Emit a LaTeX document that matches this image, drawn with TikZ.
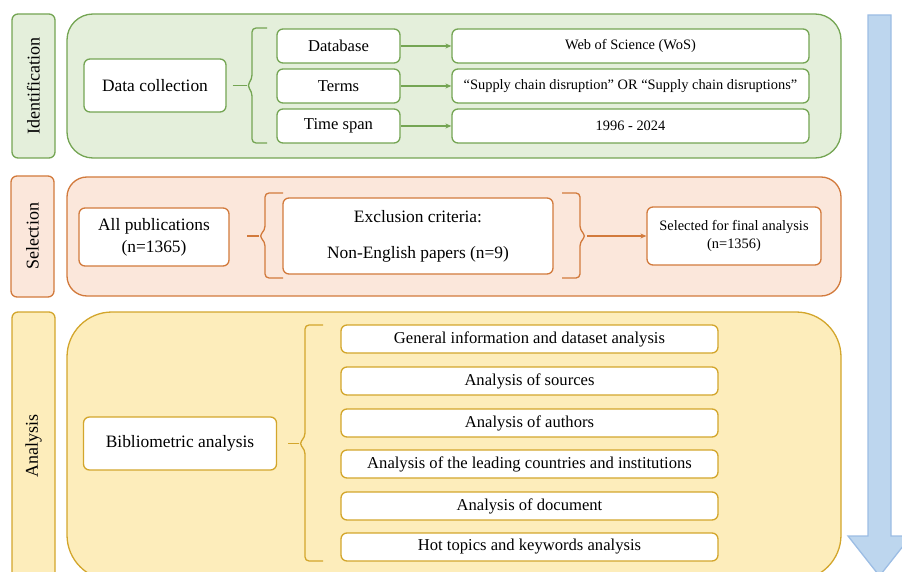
\documentclass[tikz,border=0pt]{standalone}
\usepackage{fontspec}
\setmainfont{Liberation Serif}
\usetikzlibrary{arrows.meta}

\definecolor{grnfill}{HTML}{E4EFDB}
\definecolor{grnline}{HTML}{74A553}
\definecolor{salfill}{HTML}{FBE7DB}
\definecolor{salline}{HTML}{D27A3C}
\definecolor{yelfill}{HTML}{FDEDBB}
\definecolor{yelline}{HTML}{D3A62C}
\definecolor{blufill}{HTML}{BDD6EE}
\definecolor{bluline}{HTML}{9CBDE4}

\begin{document}
\begin{tikzpicture}[x=1pt,y=-1pt,line width=1.3pt,
  box/.style={draw,fill=white,rounded corners=6pt,inner sep=2pt,align=center},
  lab/.style={draw,rounded corners=6pt,rotate=90,minimum height=43pt,
    font=\fontsize{18}{21}\selectfont},
  big/.style={font=\fontsize{17.4}{21}\selectfont},
  mid/.style={font=\fontsize{16.6}{20}\selectfont},
  sml/.style={font=\fontsize{14.4}{18}\selectfont},
  brc/.style={rounded corners=4pt},
  grnarr/.style={draw=grnline,-{Stealth[length=6pt,width=5pt]}}]
\useasboundingbox (0,0) rectangle (902,572);

% flow arrow on the right
\draw[fill=blufill,draw=bluline] (868,15) -- (891,15) -- (891,536) -- (911,536)
  -- (879.5,576) -- (848,536) -- (868,536) -- cycle;

% identification
\node[lab,draw=grnline,fill=grnfill,minimum width=144pt] (idlab) at (33.5,86) {Identification};
\draw[draw=grnline,fill=grnfill,rounded corners=26pt] (67,14) rectangle (841,158);
\node[box,big,draw=grnline,minimum width=142pt,minimum height=53pt] (datacoll) at (155,85.5) {Data collection};
\node[box,mid,draw=grnline,minimum width=123pt,minimum height=34pt] (database) at (338.5,46) {Database};
\node[box,mid,draw=grnline,minimum width=123pt,minimum height=34pt] (terms) at (338.5,86) {Terms};
\node[box,mid,draw=grnline,minimum width=123pt,minimum height=34pt] (timespan) at (338.5,126) {Time span};
\node[box,sml,draw=grnline,minimum width=357pt,minimum height=34pt] (wos) at (630.5,46) {Web of Science (WoS)};
\node[box,sml,draw=grnline,minimum width=357pt,minimum height=34pt] (query) at (630.5,86)
  {“Supply chain disruption” OR “Supply chain disruptions”};
\node[box,sml,draw=grnline,minimum width=357pt,minimum height=34pt] (years) at (630.5,126) {1996 - 2024};
\coordinate (brcA) at (247,85.5);
\draw[grnline,brc] (267,28) -- (252,28) -- (252,79) -- (247,85.5) -- (252,92) -- (252,143) -- (267,143);
\draw[grnline] ([xshift=6pt]datacoll.east) -- (brcA);
\draw[grnarr] (database) -- (wos);
\draw[grnarr] (terms) -- (query);
\draw[grnarr] (timespan) -- (years);

% selection
\node[lab,draw=salline,fill=salfill,minimum width=121pt] (sellab) at (32.5,236.5) {Selection};
\draw[draw=salline,fill=salfill,rounded corners=20pt] (67,177) rectangle (841,296);
\node[box,big,draw=salline,minimum width=150pt,minimum height=58pt] (allpub) at (154,237)
  {All publications\\[1pt](n=1365)};
\node[box,big,draw=salline,minimum width=270pt,minimum height=76pt] (excl) at (418,236)
  {Exclusion criteria:\\[15pt]Non-English papers (n=9)};
\node[box,sml,draw=salline,minimum width=174pt,minimum height=58pt] (final) at (734,236)
  {Selected for final analysis\\(n=1356)};
\coordinate (brcB) at (247,236);
\coordinate (brcC) at (587,236);
\draw[salline,brc] (283,193) -- (265,193) -- (265,230) -- (259,236) -- (265,242) -- (265,278) -- (283,278);
\draw[salline] (brcB) -- (259,236);
\draw[salline,brc] (562,193) -- (580,193) -- (580,230) -- (586,236) -- (580,242) -- (580,278) -- (562,278);
\draw[draw=salline,-{Stealth[length=6pt,width=5pt]}] (brcC) -- (final);

% analysis
\node[lab,draw=yelline,fill=yelfill,minimum width=268pt] (anlab) at (33.5,446) {Analysis};
\draw[draw=yelline,fill=yelfill,rounded corners=45pt] (67,312) rectangle (841,580);
\node[box,big,draw=yelline,minimum width=193pt,minimum height=53pt] (biblio) at (180,443.5) {Bibliometric analysis};
\foreach \nm/\yy/\txt in {gen/339/General information and dataset analysis,
    src/381/Analysis of sources,
    aut/423/Analysis of authors,
    cty/464/Analysis of the leading countries and institutions,
    doc/506/Analysis of document,
    hot/547/Hot topics and keywords analysis}
  \node[box,mid,draw=yelline,minimum width=377pt,minimum height=28pt,inner sep=0pt] (\nm) at (529.5,\yy) {\txt};
\coordinate (brcD) at (288,443.5);
\draw[yelline,brc] (323,325) -- (305,325) -- (305,437) -- (299,443.5) -- (305,450) -- (305,561) -- (323,561);
\draw[yelline] (brcD) -- (299,443.5);
\end{tikzpicture}
\end{document}
